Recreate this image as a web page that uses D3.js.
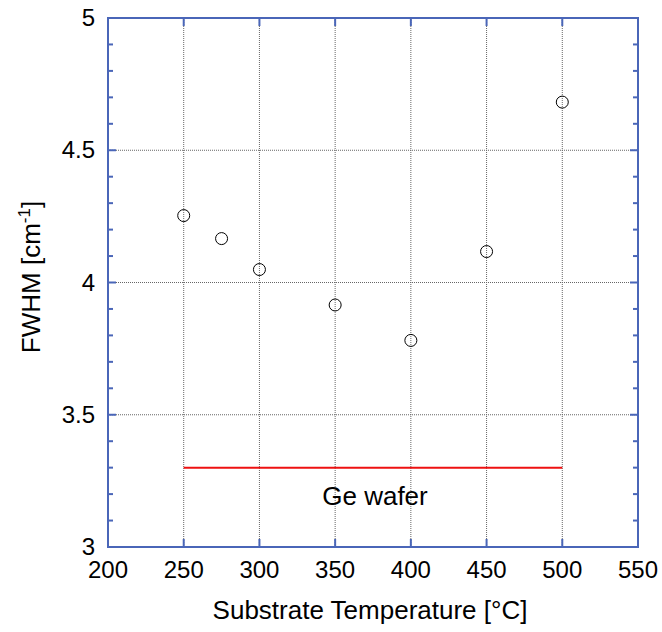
<!DOCTYPE html>
<html>
<head>
<meta charset="utf-8">
<script src="https://cdn.jsdelivr.net/npm/d3@7"></script>
<style>
  body { margin: 0; background: #fff; }
  text { font-family: "Liberation Sans", Arial, sans-serif; fill: #000; }
</style>
</head>
<body>
<div id="chart"></div>
<script>
// data
var temps = [250, 275, 300, 350, 400, 450, 500];
var fwhm = [4.253, 4.166, 4.049, 3.915, 3.781, 4.117, 4.682];
var geWafer = 3.3;
var geRange = [250, 500];
var xTicks = [200, 250, 300, 350, 400, 450, 500, 550];
var yTicks = [3, 3.5, 4, 4.5, 5];

var width = 662, height = 632;
var plotLeft = 108, plotRight = 638, plotTop = 18, plotBottom = 547;
var axisColor = '#4a66b8';

var svg = d3.select('#chart')
  .append('svg')
  .attr('width', width)
  .attr('height', height);

var x = d3.scaleLinear().domain([200, 550]).range([plotLeft, plotRight]);
var y = d3.scaleLinear().domain([3, 5]).range([plotBottom, plotTop]);

// grid
svg.append('g').selectAll('line')
  .data(xTicks.slice(1, -1))
  .enter().append('line')
  .attr('x1', function (d) { return x(d); })
  .attr('x2', function (d) { return x(d); })
  .attr('y1', plotTop).attr('y2', plotBottom)
  .attr('stroke', '#666').attr('stroke-width', 1)
  .attr('stroke-dasharray', '1,1');

svg.append('g').selectAll('line')
  .data(yTicks.slice(1, -1))
  .enter().append('line')
  .attr('y1', function (d) { return y(d); })
  .attr('y2', function (d) { return y(d); })
  .attr('x1', plotLeft).attr('x2', plotRight)
  .attr('stroke', '#666').attr('stroke-width', 1)
  .attr('stroke-dasharray', '1,1');

// ticks pointing inward: x only majors, y majors + minors every 0.1
var yMinor = d3.range(30, 51, 1).map(function (d) { return d / 10; });

var tg = svg.append('g').attr('stroke', axisColor).attr('stroke-width', 2);
xTicks.forEach(function (d) {
  tg.append('line').attr('x1', x(d)).attr('x2', x(d)).attr('y1', plotBottom).attr('y2', plotBottom - 8);
  tg.append('line').attr('x1', x(d)).attr('x2', x(d)).attr('y1', plotTop).attr('y2', plotTop + 8);
});
yMinor.forEach(function (d) {
  var major = Math.abs(d * 2 - Math.round(d * 2)) < 1e-6;
  var l = major ? 8 : 5;
  tg.append('line').attr('y1', y(d)).attr('y2', y(d)).attr('x1', plotLeft).attr('x2', plotLeft + l);
  tg.append('line').attr('y1', y(d)).attr('y2', y(d)).attr('x1', plotRight).attr('x2', plotRight - l);
});

// frame
svg.append('rect')
  .attr('x', plotLeft).attr('y', plotTop)
  .attr('width', plotRight - plotLeft).attr('height', plotBottom - plotTop)
  .attr('fill', 'none').attr('stroke', axisColor).attr('stroke-width', 2);

// tick labels
svg.append('g').selectAll('text')
  .data(xTicks).enter().append('text')
  .attr('x', function (d) { return x(d); })
  .attr('y', plotBottom + 31)
  .attr('text-anchor', 'middle')
  .style('font-size', '24px')
  .text(function (d) { return d; });

svg.append('g').selectAll('text')
  .data(yTicks).enter().append('text')
  .attr('x', plotLeft - 13)
  .attr('y', function (d) { return y(d) + 8; })
  .attr('text-anchor', 'end')
  .style('font-size', '24px')
  .text(function (d) { return d; });

// axis titles
svg.append('text')
  .attr('x', 370)
  .attr('y', 619)
  .attr('text-anchor', 'middle')
  .style('font-size', '26px')
  .text('Substrate Temperature [°C]');

var yt = svg.append('text')
  .attr('transform', 'translate(40,277) rotate(-90)')
  .attr('text-anchor', 'middle')
  .style('font-size', '26px');
yt.append('tspan').text('FWHM [cm');
yt.append('tspan').attr('dy', -10).style('font-size', '17px').text('-1');
yt.append('tspan').attr('dy', 10).text(']');

// Ge wafer reference line
svg.append('line')
  .attr('x1', x(geRange[0])).attr('x2', x(geRange[1]))
  .attr('y1', y(geWafer)).attr('y2', y(geWafer))
  .attr('stroke', '#ee1111').attr('stroke-width', 2);

svg.append('text')
  .attr('x', 375)
  .attr('y', y(geWafer) + 37)
  .attr('text-anchor', 'middle')
  .style('font-size', '26px')
  .text('Ge wafer');

// points
svg.append('g').selectAll('circle')
  .data(temps).enter().append('circle')
  .attr('cx', function (d) { return x(d); })
  .attr('cy', function (d, i) { return y(fwhm[i]); })
  .attr('r', 6)
  .attr('fill', 'none')
  .attr('stroke', '#000')
  .attr('stroke-width', 1);
</script>
</body>
</html>
